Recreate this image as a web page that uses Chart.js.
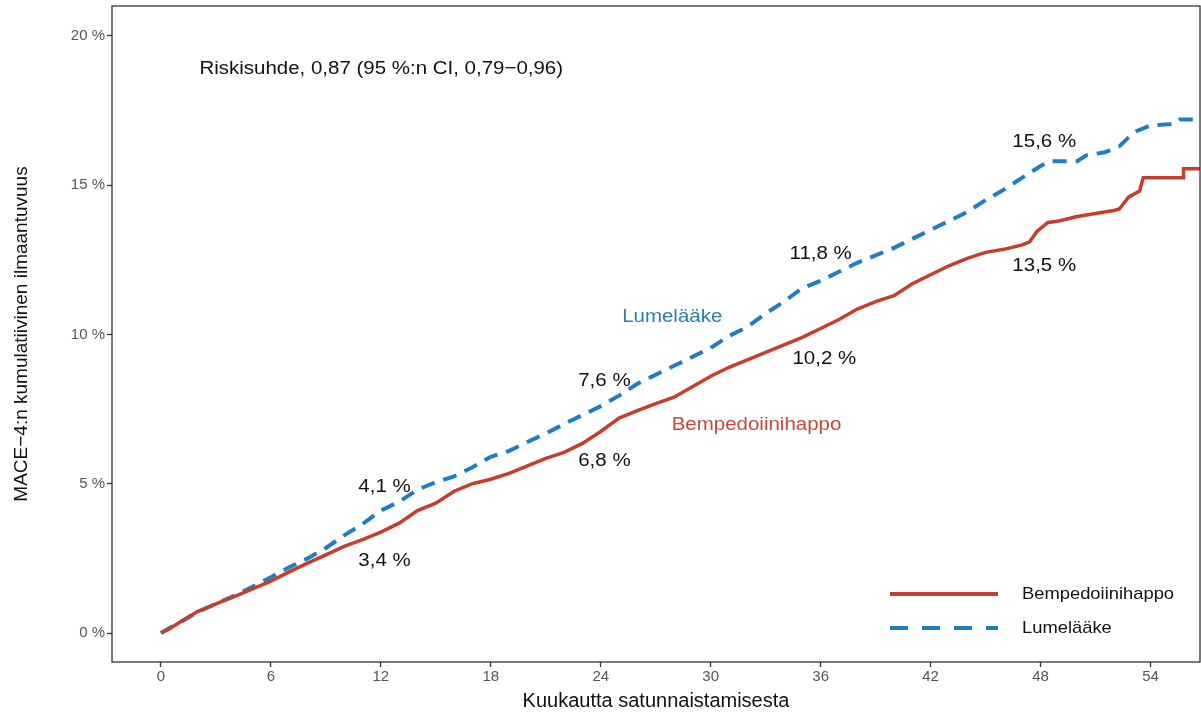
<!DOCTYPE html>
<html><head><meta charset="utf-8">
<script src="https://cdn.jsdelivr.net/npm/chart.js@4/dist/chart.umd.min.js"></script>
<style>html,body{margin:0;padding:0;background:#fff}#wrap{width:1201px;height:713px}</style>
</head><body><div id="wrap"><canvas id="c" width="1201" height="713"></canvas></div>
<script>
const monthsRed = [0,0.5,1,2,3,4,5,6,7,8,9,10,11,12,13,14,15,16,17,18,19,20,21,22,23,24,25,26,27,28,29,30,31,32,33,34,35,36,37,38,39,40,41,42,43,44,45,46,47,47.4,47.8,48.4,49,50,51,52,52.3,52.8,53.4,53.6,54,55.8,55.8,56.7];
const valuesRed = [0,0.15,0.35,0.72,0.98,1.22,1.48,1.74,2.05,2.34,2.62,2.9,3.13,3.38,3.68,4.1,4.35,4.75,5.0,5.15,5.35,5.6,5.85,6.05,6.35,6.75,7.2,7.45,7.68,7.9,8.25,8.6,8.9,9.15,9.4,9.65,9.9,10.2,10.5,10.85,11.1,11.3,11.7,12.0,12.3,12.55,12.75,12.85,13.0,13.1,13.45,13.75,13.8,13.95,14.05,14.15,14.2,14.6,14.8,15.25,15.25,15.25,15.55,15.55];
const monthsBlue = [0,1,2,3,4,5,6,7,8,9,10,11,12,13,14,15,16,17,18,19,20,21,22,23,24,25,26,27,28,29,30,31,32,33,34,35,36,37,38,39,40,41,42,43,44,45,46,47,48,48.5,50,50.5,51.5,52.3,52.8,53.2,54,55.3,55.6,56.7];
const valuesBlue = [0,0.35,0.7,0.98,1.25,1.55,1.87,2.2,2.5,2.85,3.27,3.65,4.1,4.4,4.8,5.05,5.25,5.55,5.9,6.1,6.4,6.68,7.0,7.3,7.6,7.95,8.35,8.65,8.95,9.25,9.55,9.95,10.25,10.7,11.1,11.55,11.8,12.1,12.4,12.65,12.9,13.2,13.5,13.8,14.1,14.5,14.85,15.25,15.64,15.8,15.8,16.0,16.1,16.3,16.6,16.8,17.0,17.05,17.2,17.2];
const xTicks = [0,6,12,18,24,30,36,42,48,54];
const yTicks = [0,5,10,15,20];
const seriesNames = ['Bempedoiinihappo','Lumelääke'];
const xTitle = 'Kuukautta satunnaistamisesta';
const yTitle = 'MACE\u22124:n kumulatiivinen ilmaantuvuus';
const hrText = 'Riskisuhde, 0,87 (95 %:n CI, 0,79\u22120,96)';
const labelTexts = ['4,1 %','3,4 %','7,6 %','6,8 %','11,8 %','10,2 %','15,6 %','13,5 %'];
const labelMonths = [12.2,12.2,24.2,24.2,36,36.2,48.2,48.2];
const labelValues = [4.88,2.4,8.45,5.75,12.7,9.19,16.44,12.3];

const RED = '#c63d2b', BLUE = '#1f7dc1';
const FONT = '"Liberation Sans", Arial, sans-serif';
const SX = 1.12;

function stretchText(ctx, text, x, y, align) {
  ctx.save();
  ctx.translate(x, y);
  ctx.scale(SX, 1);
  ctx.textAlign = align;
  ctx.fillText(text, 0, 0);
  ctx.restore();
}

const annot = {
  id: 'annot',
  afterDraw(chart) {
    const {ctx, chartArea: a, scales: {x, y}} = chart;
    ctx.save();
    ctx.strokeStyle = '#333'; ctx.lineWidth = 1.3;
    ctx.strokeRect(a.left, a.top, a.right - a.left, a.bottom - a.top);
    ctx.textBaseline = 'middle';
    ctx.font = '18.3px ' + FONT; ctx.fillStyle = '#111';
    stretchText(ctx, hrText, x.getPixelForValue(2.1), y.getPixelForValue(18.9), 'left');
    labelTexts.forEach((t, i) => stretchText(ctx, t, x.getPixelForValue(labelMonths[i]), y.getPixelForValue(labelValues[i]), 'center'));
    ctx.fillStyle = '#2a7fae';
    stretchText(ctx, seriesNames[1], x.getPixelForValue(27.9), y.getPixelForValue(10.6), 'center');
    ctx.fillStyle = '#c4493a';
    stretchText(ctx, seriesNames[0], x.getPixelForValue(32.5), y.getPixelForValue(6.98), 'center');
    // legend
    const lx0 = 890, lx1 = 998, ly = [594, 628];
    ctx.lineWidth = 4;
    ctx.strokeStyle = RED; ctx.setLineDash([]);
    ctx.beginPath(); ctx.moveTo(lx0, ly[0]); ctx.lineTo(lx1, ly[0]); ctx.stroke();
    ctx.strokeStyle = BLUE; ctx.setLineDash([18, 14]);
    ctx.beginPath(); ctx.moveTo(lx0, ly[1]); ctx.lineTo(lx1, ly[1]); ctx.stroke();
    ctx.setLineDash([]);
    ctx.font = '16.4px ' + FONT; ctx.fillStyle = '#111';
    stretchText(ctx, seriesNames[0], 1022, ly[0], 'left');
    stretchText(ctx, seriesNames[1], 1022, ly[1], 'left');
    ctx.restore();
  }
};

new Chart(document.getElementById('c'), {
  type: 'line',
  data: {
    datasets: [
      {label: seriesNames[1], data: monthsBlue.map((m, i) => ({x: m, y: valuesBlue[i]})),
       borderColor: BLUE, borderWidth: 4, borderDash: [14, 9], pointRadius: 0, tension: 0, fill: false, order: 2},
      {label: seriesNames[0], data: monthsRed.map((m, i) => ({x: m, y: valuesRed[i]})),
       borderColor: RED, borderWidth: 3.5, pointRadius: 0, tension: 0, fill: false, order: 1}
    ]
  },
  options: {
    responsive: false, animation: false,
    layout: {padding: {left: 0, right: 1, top: 6, bottom: 0}},
    plugins: {legend: {display: false}, tooltip: {enabled: false}},
    scales: {
      x: {
        type: 'linear', min: -2.67, max: 56.7,
        afterBuildTicks: s => { s.ticks = xTicks.map(v => ({value: v})); },
        afterFit: s => { s.height = 51; s.paddingLeft = 0; s.paddingRight = 0; },
        grid: {drawOnChartArea: false, drawTicks: true, tickLength: 5, color: '#333', tickWidth: 1.3},
        border: {display: false},
        ticks: {color: '#555', font: {family: FONT, size: 15}, padding: 1, maxRotation: 0},
        title: {display: true, text: xTitle, color: '#111', font: {family: FONT, size: 20}, padding: {top: 0, bottom: 0}}
      },
      y: {
        type: 'linear', min: -0.97, max: 21.0,
        afterBuildTicks: s => { s.ticks = yTicks.map(v => ({value: v})); },
        afterFit: s => { s.width = 112; s.paddingTop = 0; s.paddingBottom = 0; },
        grid: {drawOnChartArea: false, drawTicks: true, tickLength: 5, color: '#333', tickWidth: 1.3},
        border: {display: false},
        ticks: {color: '#555', font: {family: FONT, size: 15}, padding: 2, callback: v => v + ' %'},
        title: {display: true, text: yTitle, color: '#111', font: {family: FONT, size: 19}, padding: {top: 10, bottom: 2}}
      }
    }
  },
  plugins: [annot]
});
</script></body></html>
